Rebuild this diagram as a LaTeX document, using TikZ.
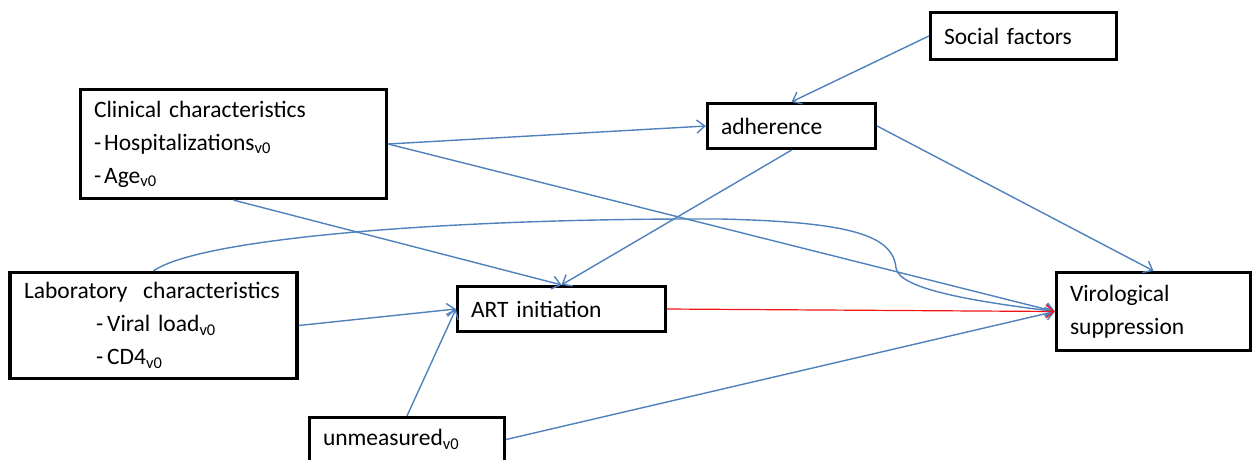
\documentclass[tikz,border=0pt]{standalone}
\usepackage{fontspec}
\setmainfont{Carlito}
\usetikzlibrary{arrows.meta}
\definecolor{lnblue}{RGB}{79,129,189}
\definecolor{lnred}{RGB}{240,20,20}
\tikzset{
  box/.style={draw=black, line width=3.2pt, rectangle, inner xsep=13.5pt, inner ysep=0pt,
    align=left, font=\fontsize{23.5}{33}\selectfont},
  conn/.style={draw=lnblue, line width=1.4pt, -{Straight Barb[length=8pt,width=13pt]}},
  redconn/.style={draw=lnred, line width=1.2pt, -{Straight Barb[length=8pt,width=13pt]}}
}
\begin{document}
\begin{tikzpicture}[x=1pt,y=-1pt]
\useasboundingbox (0,0) rectangle (1254,459);
\clip (0,0) rectangle (1254,459);
\node[box, minimum width=306pt, minimum height=109pt, text width=279pt] (clin) at (233.5,144)
  {Clinical characteristics\\-\hspace{3pt}Hospitalizations\textsubscript{v0}\\-\hspace{3pt}Age\textsubscript{v0}};
\node[box, minimum width=286pt, minimum height=106pt, text width=259pt, inner xsep=14pt] (lab) at (153.5,325.5)
  {Laboratory~ characteristics\\\hspace*{72pt}-\hspace{4pt}Viral load\textsubscript{v0}\\\hspace*{72pt}-\hspace{4pt}CD4\textsubscript{v0}};
\node[box, minimum width=208pt, minimum height=45pt, text width=181pt] (art) at (561.5,309) {ART initiation};
\node[box, minimum width=195pt, minimum height=44pt, text width=168pt] (unm) at (407,439.5) {unmeasured\textsubscript{v0}};
\node[box, minimum width=186pt, minimum height=47pt, text width=159pt] (soc) at (1023.5,36) {Social factors};
\node[box, minimum width=168pt, minimum height=45pt, text width=141pt] (adh) at (791.5,126) {adherence};
\node[box, minimum width=194pt, minimum height=78pt, text width=167pt] (vir) at (1153.5,311.5) {Virological\\suppression};

\draw[conn] (soc.west) -- (adh.north);
\draw[conn] (clin.east) -- (adh.west);
\draw[conn] (clin.east) -- (vir.west);
\draw[conn] (clin.south) -- (art.north);
\draw[conn] (adh.south) -- (art.north);
\draw[conn] (adh.east) -- (vir.north);
\draw[conn] (lab.east) -- (art.west);
\draw[conn] (unm.north) -- (art.west);
\draw[conn] (unm.east) -- (vir.west);
\draw[conn] (lab.north) .. controls (200,238) and (450,218) .. (720,219)
  .. controls (850,222) and (893,235) .. (896,268)
  .. controls (899,290) and (980,302) .. (vir.west);
\draw[redconn] (art.east) -- (vir.west);
\end{tikzpicture}
\end{document}
